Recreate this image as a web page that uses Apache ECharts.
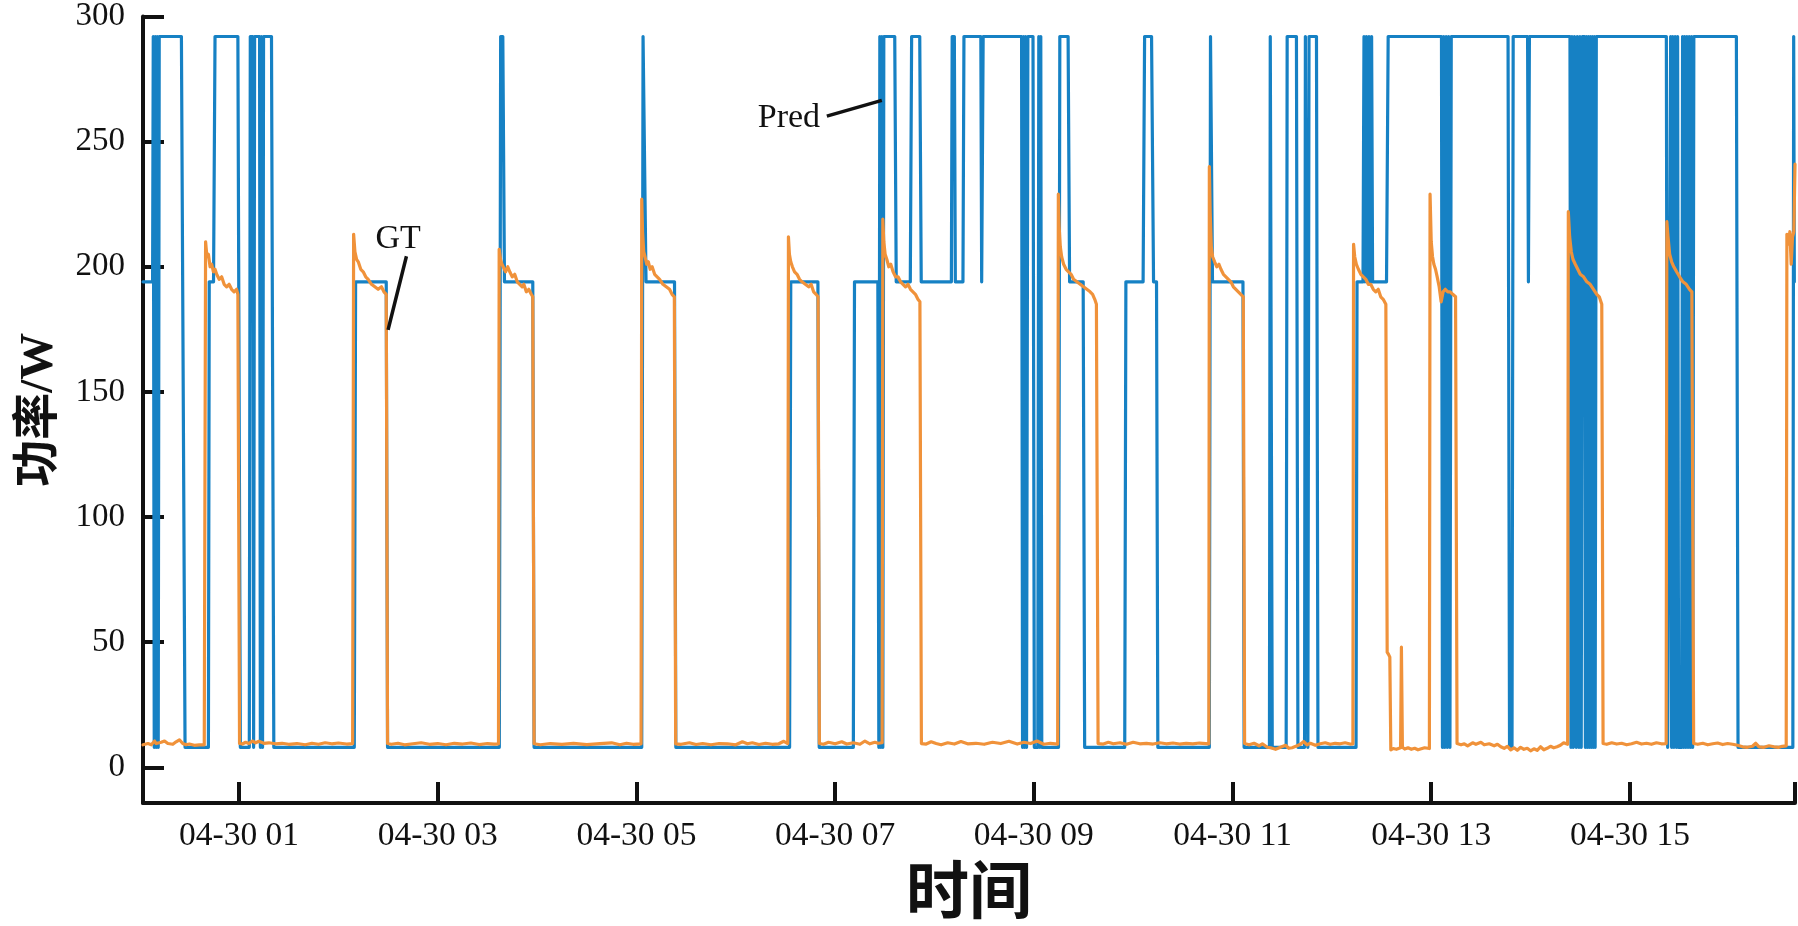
<!DOCTYPE html>
<html>
<head>
<meta charset="utf-8">
<script src="https://cdn.jsdelivr.net/npm/echarts@6/dist/echarts.min.js"></script>
<style>
html,body{margin:0;padding:0;background:#fff;}
#c{width:1798px;height:926px;}
</style>
</head>
<body>
<div id="c"></div>
<script>
// time in minutes since 04-30 00:00
const xTickVals = [60, 180, 300, 420, 540, 660, 780, 900];
const xTickLabels = ['04-30 01', '04-30 03', '04-30 05', '04-30 07', '04-30 09', '04-30 11', '04-30 13', '04-30 15'];
const yTickVals = [0, 50, 100, 150, 200, 250, 300];

const predT = [2.0,7.8,8.2,8.8,9.4,10.0,10.6,11.2,11.8,25.2,27.4,41.5,42.0,44.6,45.5,59.3,60.8,66.2,66.8,68.3,68.8,69.4,72.4,72.9,73.5,74.2,74.8,79.6,81.0,
129.6,130.4,148.9,149.7,217.2,218.0,219.3,220.3,237.4,238.2,303.2,304.0,304.8,305.8,323.0,323.8,392.5,393.2,409.6,410.4,
431.0,431.7,445.8,446.4,447.0,447.6,448.2,448.8,449.4,456.0,456.9,465.4,466.2,471.1,472.0,490.2,490.7,492.0,492.6,497.2,497.8,508.0,508.5,509.4,
532.6,533.2,533.8,534.4,535.0,535.6,536.4,539.5,540.3,542.4,543.0,543.6,544.2,544.8,
554.9,555.7,560.7,561.6,569.8,570.7,594.9,595.6,606.0,606.9,611.1,612.3,614.1,614.9,
646.0,646.7,647.3,647.9,666.3,667.0,682.3,682.8,683.4,684.0,692.4,693.0,698.6,699.5,703.5,704.0,705.0,705.5,706.2,710.7,711.6,
734.6,735.2,738.8,739.4,740.0,740.8,741.6,742.4,743.2,744.0,744.6,753.0,754.0,786.2,786.8,787.5,788.2,789.0,789.7,790.5,791.3,792.1,
826.4,827.3,828.8,829.5,838.2,838.7,839.3,863.8,864.4,865.0,865.8,866.5,867.6,868.2,869.2,869.8,870.6,871.3,872.6,873.1,873.7,874.3,874.9,875.5,876.1,876.7,877.3,877.9,878.5,879.0,879.7,
922.0,922.8,924.0,924.6,925.2,925.8,926.6,927.3,928.1,928.8,929.4,931.2,931.8,932.4,933.0,933.7,934.4,935.1,935.8,936.5,937.2,937.9,938.6,964.3,965.3,998.4,998.9,999.3,999.7];
const predV = [194,194,292,8,292,8,292,8,292,292,8,8,194,194,292,292,8,8,292,292,8,292,292,8,292,8,292,292,8,
8,194,194,8,8,292,292,194,194,8,8,292,292,194,194,8,8,194,194,8,
8,194,194,8,292,8,292,8,292,292,194,194,292,292,194,194,292,292,194,194,292,292,194,292,
292,8,292,8,292,8,292,292,8,8,292,8,292,8,
8,292,292,194,194,8,8,194,194,292,292,194,194,8,
8,292,292,194,194,8,8,292,292,8,8,292,292,8,8,292,292,8,292,292,8,
8,194,194,292,194,292,194,292,194,292,194,194,292,292,8,292,8,292,8,292,8,292,
292,8,8,292,292,194,292,292,8,292,8,292,8,292,8,292,8,292,292,8,292,8,292,8,292,8,292,8,292,8,292,
292,8,8,292,8,292,8,292,8,292,8,8,292,8,292,8,292,8,292,8,292,8,292,292,8,8,292,194,194];

const gtT = [2.0,5,7,9,10,13,15,17,20,22,24,26,28,30,33,36,39.0,39.8,40.6,41.5,42.5,43.5,44.5,45.5,46.5,48,49.5,51,52.5,54,55.5,57,58.5,59.3,60.3,
62,64,66,68,70,72,75,78,82,86,90,95,100,104,108,112,116,120,125,128.6,
129.2,130,131,132,133.5,135,136.5,138,140,142,144,146,147.5,148.9,149.7,
152,156,160,165,170,175,180,185,190,195,200,205,210,214,216.7,
217.1,217.9,218.8,219.8,221,222.3,223.5,225,226.5,228,229.5,231,232,233.5,235,236.5,237.4,238.2,
242,248,255,262,270,278,285,290,294,298,302.8,
303.2,303.7,304.4,305.2,306.2,307.2,308.3,309.5,311,312.5,314,316,318,320,321.5,322.9,323.7,
327,332,336,340,345,350,355,360,364,367,370,374,378,382,386,389,391.4,
391.8,392.4,393.2,394.2,395.5,397,398.5,400,402,404,405.5,407,408.5,409.7,410.5,
413,416,420,424,427,431,435,438,441,444,446,448.4,
448.8,449.4,450.2,451.2,452.4,453.6,455,456.5,458,459.5,461,462.5,464,465.5,467,468.5,470,471.2,472.1,
475,478,481,484,488,492,496,500,505,510,515,520,525,530,534,538,542,546,550,554.4,
554.8,555.3,556.0,556.8,558,559.5,561,562.5,564,566,568,570,572,574,575.5,576.8,577.8,578.8,
582,585,588,592,596,600,604,608,612,616,620,624,628,632,636,640,645.7,
646.0,646.5,647.2,648,649.2,650.5,651.8,653,654.5,656,657.5,659,660.5,662,663.5,665,666.5,667.3,
670,673,676,678,681,683,686,689,692,694,696,699,701,703,705,707,710,713,716,719,722,725,728,731,732.7,
733.1,733.8,734.8,736,737.5,739,740.5,742,743.5,745,746.5,748,749.5,751,752.6,753.4,754.3,755.0,755.6,757,759,761.5,762.0,762.6,764,766,768,770,772,774,776,778.9,
779.3,780.0,780.8,781.6,782.6,783.6,784.8,786.0,787.2,788.5,790,791.5,793,794.7,795.6,
798,800,802,805,807,810,812,815,818,820,822,824,826,828,830,832,834,836,838,840,842,844,846,848,850,852,854,856,858,860,862.4,
862.8,863.6,864.6,865.6,867,868.5,870,872,874,876,878,880,881.5,883,883.8,
886,889,892,895,898,901,904,907,910,913,916,919,921.9,
922.3,923.0,924,925.2,926.5,928.2,930,932,934,936,937.4,938.5,
941,944,947,950,953,956,959,962,965,968,971,974,976,978,981,984,987,990,992,994.4,
994.8,995.6,996.6,997.4,998.2,999.0,999.7];
const gtV = [9.0,9.5,9.0,10.5,9.5,10.0,10.5,9.5,9.2,10.2,11.0,9.5,9.0,9.3,8.8,9.0,9.0,210,204,205,200,201,198,199,197,195,196,193,192,193,191,190,191,189,9.5,
9.3,10,9.5,10.5,9.8,10.4,9.6,9.8,9.4,9.6,9.2,9.5,9.0,9.6,9.2,9.8,9.4,9.7,9.3,9.5,
213,206,203,202,199,198,196,195,193,192,191,192,190,189,9.5,
9.2,9.6,9.0,9.4,9.8,9.2,9.5,9.0,9.6,9.3,9.7,9.1,9.5,9.3,9.4,
207,203,201,201,198,200,198,196,197,194,193,192,193,190,191,189,188,9.4,
9.0,9.5,9.2,9.6,9.1,9.5,9.8,9.0,9.6,9.2,9.4,
227,214,206,204,201,202,199,200,197,196,195,193,192,191,189,188,9.4,
9.2,9.8,9.1,9.5,9.0,9.5,9.4,9.0,10.2,9.4,9.8,9.1,9.6,9.2,9.4,10.4,9.5,
212,205,202,200,198,197,195,194,193,192,193,190,189,188,9.5,
9.2,10.0,9.4,10.2,9.3,9.8,9.2,10.5,9.4,10.0,9.6,9.8,
219,210,205,203,200,201,198,196,196,194,193,192,193,191,190,189,187,186,9.5,
9.3,10.2,9.5,9.0,9.8,9.3,10.3,9.4,9.6,9.2,10.0,9.5,10.4,9.3,10.0,9.5,10.5,9.2,9.6,9.3,
229,216,208,204,201,199,198,197,195,194,193,192,191,190,189,187,185,9.5,
9.3,10.0,9.4,9.8,9.2,10.0,9.4,9.6,9.3,9.8,9.4,9.7,9.3,9.6,9.4,9.7,9.4,
240,222,208,204,202,200,201,199,197,196,195,194,192,191,190,189,188,9.5,
9.0,9.6,8.6,9.4,8.0,7.8,7.2,8.0,8.8,7.6,7.8,8.6,9.2,10.3,9.0,9.6,8.8,9.4,9.8,9.2,9.6,9.4,9.8,9.3,9.4,
209,204,201,199,197,196,195,193,193,191,190,191,188,187,185,46,45,44,7.0,7.5,7.2,7.8,48,8.0,7.3,7.8,7.2,7.6,7.0,7.4,7.8,7.5,
229,210,204,201,199,196,192,186,190,191,190,190,189,188,9.5,
9.0,9.4,8.6,9.8,9.2,10.0,9.0,9.4,8.6,9.2,8.2,7.6,8.4,7.0,7.8,6.8,8.0,7.2,7.6,6.6,7.4,6.8,8.2,7.0,7.6,8.4,7.8,8.2,8.8,9.8,9.2,
222,212,206,203,201,199,197,196,194,193,191,189,188,185,9.5,
9.2,9.8,9.3,9.6,9.0,9.4,10.0,9.3,9.6,9.2,9.8,9.4,9.5,
218,212,205,202,200,198,196,194,193,191,190,9.5,
9.2,9.6,9.0,9.4,9.7,9.1,9.5,9.2,8.8,8.2,8.0,8.4,9.6,8.2,8.0,8.6,8.2,8.0,8.4,8.6,
213,209,214,201,212,214,241];

const zip = (t, v) => t.map((x, i) => [x, v[i]]);
const serif = '"Liberation Serif", "Times New Roman", serif';

const chart = echarts.init(document.getElementById('c'), null, {renderer: 'canvas'});
chart.setOption({
  animation: false,
  backgroundColor: '#fff',
  grid: {left: 143, right: 3, top: 14, bottom: 121, containLabel: false},
  xAxis: {
    type: 'value', min: 2, max: 999.7,
    name: '时间', nameLocation: 'middle', nameGap: 54,
    nameTextStyle: {fontFamily: '"Noto Sans CJK SC"', fontWeight: 'bold', fontSize: 63, color: '#111'},
    axisLine: {onZero: false, lineStyle: {color: '#111', width: 4}},
    axisTick: {inside: true, length: 21, customValues: xTickVals.concat([999.7]), lineStyle: {color: '#111', width: 4}},
    axisLabel: {customValues: xTickVals, margin: 16, fontFamily: serif, fontSize: 33.5, color: '#111',
      formatter: v => { const i = xTickVals.indexOf(v); return i >= 0 ? xTickLabels[i] : ''; }},
    splitLine: {show: false}
  },
  yAxis: {
    type: 'value', min: -14.3, max: 300,
    name: '功率/W', nameLocation: 'middle', nameGap: 80,
    nameTextStyle: {fontFamily: serif + ', "Noto Sans CJK SC"', fontWeight: 'bold', fontSize: 47, color: '#111'},
    axisLine: {onZero: false, lineStyle: {color: '#111', width: 4}},
    axisTick: {inside: true, length: 21, customValues: yTickVals, lineStyle: {color: '#111', width: 4}},
    axisLabel: {customValues: yTickVals, margin: 18, fontFamily: serif, fontSize: 33, color: '#111'},
    splitLine: {show: false}
  },
  series: [
    {
      name: 'Pred', type: 'line', data: zip(predT, predV), symbol: 'none', showSymbol: false,
      sampling: null, z: 2,
      lineStyle: {color: '#1681C4', width: 3.2, join: 'round', cap: 'round'},
      emphasis: {disabled: true}
    },
    {
      name: 'GT', type: 'line', data: zip(gtT, gtV), symbol: 'none', showSymbol: false,
      z: 3,
      lineStyle: {color: '#F0923A', width: 3.2, join: 'round', cap: 'round'},
      emphasis: {disabled: true},
      markLine: {
        silent: true, symbol: ['none', 'none'], animation: false,
        lineStyle: {color: '#111', width: 3.5, type: 'solid'},
        emphasis: {disabled: true},
        label: {show: true, position: 'start', formatter: '{b}', distance: 7,
          fontFamily: serif, fontSize: 34, color: '#111'},
        data: [
          [{name: 'Pred', coord: [415.0, 260.2]}, {coord: [448.2, 266.5]}],
          [{name: 'GT', coord: [161.1, 204.2], label: {offset: [-10, 7]}}, {coord: [150.0, 174.8]}]
        ]
      }
    }
  ]
});
</script>
</body>
</html>
